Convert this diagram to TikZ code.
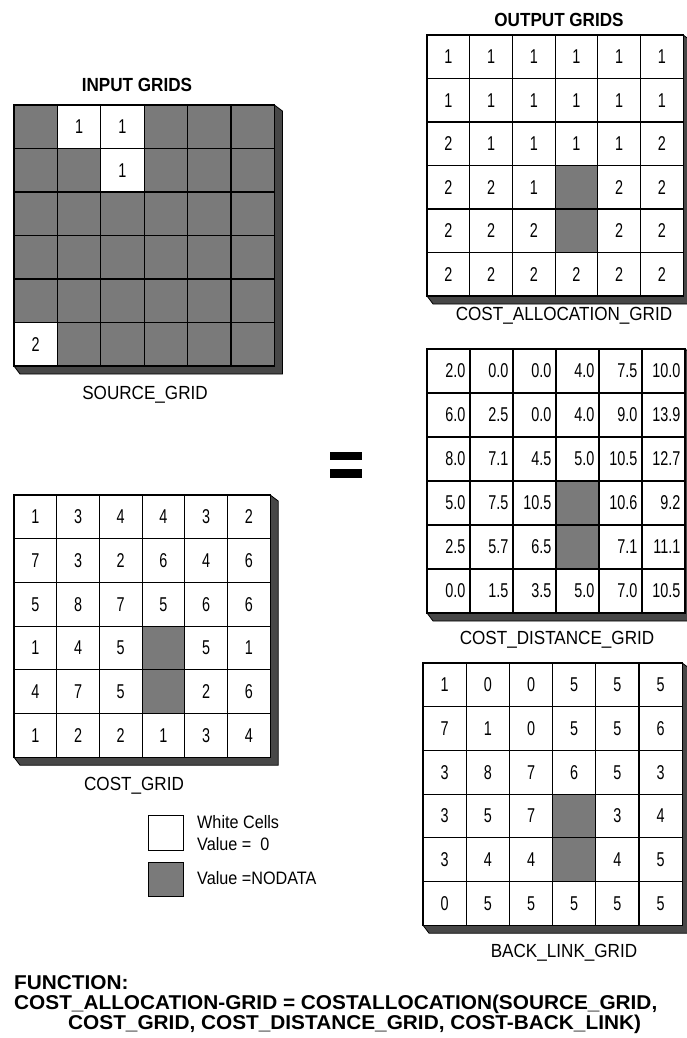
\documentclass[tikz,border=0pt]{standalone}
\usepackage{fontspec}
\setmainfont{Liberation Sans}[FakeStretch=0.9]
\newfontfamily\pCellFont{Liberation Sans}[FakeStretch=0.72]
\newfontfamily\pFuncFont{Liberation Sans}[FakeStretch=1.04]
\def\pNodata{X}
% grid: [value anchor]{name}{x0}{y0}{cell w}{cell h}{rows}
\newcommand{\pGrid}[7][center]{%
  \pgfmathsetmacro{\gxa}{#3+6*#5}%
  \pgfmathsetmacro{\gya}{#4+6*#6}%
  \filldraw[pShadow] (#3,\gya) -- (#3+6,\gya+8) -- (\gxa+8,\gya+8) -- (\gxa+8,#4+6) -- (\gxa,#4) -- cycle;
  \foreach \row [count=\r from 0] in {#7} {
    \foreach \val [count=\c from 0] in \row {
      \ifx\val\pNodata
        \node[pCell, fill=pNoData, minimum width=#5pt, minimum height=#6pt] (#2-\r-\c) at ({#3+(\c+0.5)*#5},{#4+(\r+0.5)*#6}) {};
      \else
        \node[pCell, minimum width=#5pt, minimum height=#6pt] (#2-\r-\c) at ({#3+(\c+0.5)*#5},{#4+(\r+0.5)*#6}) {};
        \node[pVal, anchor=#1] (#2-\r-\c-v) at (#2-\r-\c.#1) {\val};
      \fi
    }
  }
}
\colorlet{pNoData}{black!52}
\tikzset{
  pCell/.style={draw, line width=1.2pt, inner sep=0pt, fill=white},
  pShadow/.style={fill=black!72, draw=black, line width=0.8pt},
  pVal/.style={inner xsep=5pt, inner ysep=0pt, font=\pCellFont\fontsize{20}{21}\selectfont},
  pLabel/.style={anchor=base, inner sep=0pt, font=\fontsize{19}{20}\selectfont},
  pTitle/.style={anchor=base, inner sep=0pt, font=\bfseries\fontsize{19}{20}\selectfont},
  pKey/.style={anchor=west, inner sep=0pt, font=\fontsize{18}{20}\selectfont},
  pFunc/.style={anchor=base west, inner sep=0pt, font=\pFuncFont\bfseries\fontsize{20}{22}\selectfont}
}

\begin{document}
\begin{tikzpicture}[x=1pt,y=-1pt]
\useasboundingbox (0,0) rectangle (686,1038);

% input side
\node[pTitle] (inTitle) at (137,92) {INPUT GRIDS};
\pGrid{src}{14}{105}{43.4}{43.5}{{X,1,1,X,X,X},{X,X,1,X,X,X},{X,X,X,X,X,X},{X,X,X,X,X,X},{X,X,X,X,X,X},{2,X,X,X,X,X}}
\node[pLabel] (srcLabel) at (145,399) {SOURCE\_GRID};

\pGrid{cost}{14}{495}{42.7}{43.7}{{1,3,4,4,3,2},{7,3,2,6,4,6},{5,8,7,5,6,6},{1,4,5,X,5,1},{4,7,5,X,2,6},{1,2,2,1,3,4}}
\node[pLabel] (costLabel) at (134,790) {COST\_GRID};

% key
\node[pCell, minimum width=35pt, minimum height=35pt, anchor=north west] (keyWhite) at (148,815) {};
\node[pCell, fill=pNoData, minimum width=35pt, minimum height=34pt, anchor=north west] (keyGray) at (148,862) {};
\node[pKey] (keyWhiteA) at (197,822) {White Cells};
\node[pKey] (keyWhiteB) at (197,844) {Value =\ \ 0};
\node[pKey] (keyGrayA) at (197,878) {Value =NODATA};

% equals sign
\fill (330,452) rectangle (362,460);
\fill (330,469) rectangle (362,478);

% output side
\node[pTitle] (outTitle) at (559,27) {OUTPUT GRIDS};
\pGrid{alloc}{427}{35}{42.7}{43.5}{{1,1,1,1,1,1},{1,1,1,1,1,1},{2,1,1,1,1,2},{2,2,1,X,2,2},{2,2,2,X,2,2},{2,2,2,2,2,2}}
\node[pLabel] (allocLabel) at (564,320) {COST\_ALLOCATION\_GRID};

\pGrid[east]{dist}{427}{349}{43}{44}{{2.0,0.0,0.0,4.0,7.5,10.0},{6.0,2.5,0.0,4.0,9.0,13.9},{8.0,7.1,4.5,5.0,10.5,12.7},{5.0,7.5,10.5,X,10.6,9.2},{2.5,5.7,6.5,X,7.1,11.1},{0.0,1.5,3.5,5.0,7.0,10.5}}
\node[pLabel] (distLabel) at (557,644) {COST\_DISTANCE\_GRID};

\pGrid{back}{423}{663}{43.2}{43.7}{{1,0,0,5,5,5},{7,1,0,5,5,6},{3,8,7,6,5,3},{3,5,7,X,3,4},{3,4,4,X,4,5},{0,5,5,5,5,5}}
\node[pLabel] (backLabel) at (564,957) {BACK\_LINK\_GRID};

% function
\node[pFunc] (funcA) at (14,989) {FUNCTION:};
\node[pFunc] (funcB) at (14,1009) {COST\_ALLOCATION-GRID = COSTALLOCATION(SOURCE\_GRID,};
\node[pFunc] (funcC) at (68,1029) {COST\_GRID, COST\_DISTANCE\_GRID, COST-BACK\_LINK)};
\end{tikzpicture}
\end{document}
